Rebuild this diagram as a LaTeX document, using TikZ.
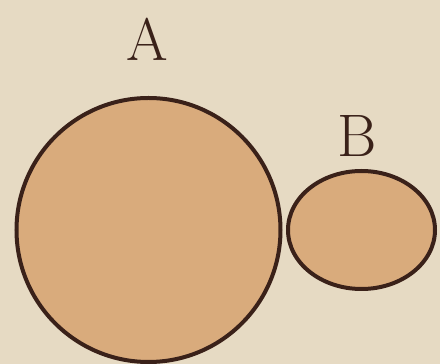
\documentclass[tikz,border=0pt]{standalone}
\usetikzlibrary{shapes.geometric}
\definecolor{paper}{HTML}{E6DAC3}
\definecolor{setfill}{HTML}{D9AB7C}
\definecolor{ink}{HTML}{3A2119}
\tikzset{
  setshape/.style={draw=ink, fill=setfill, line width=4pt},
  setlabel/.style={text=ink, font=\fontsize{60}{60}\selectfont, inner sep=0pt}
}
\begin{document}
\begin{tikzpicture}[x=1pt,y=1pt]
\fill[paper] (0,0) rectangle (440,364);
\useasboundingbox (0,0) rectangle (440,364);
\node[setshape, circle, minimum size=264pt, inner sep=0pt] (A) at (148.5,134) {};
\node[setshape, ellipse, minimum width=147pt, minimum height=118pt, inner sep=0pt] (B) at (361.5,134) {};
\node[setlabel, anchor=base] (la) at (147,303) {A};
\node[setlabel, anchor=base] (lb) at (357.5,207) {B};
\end{tikzpicture}
\end{document}
